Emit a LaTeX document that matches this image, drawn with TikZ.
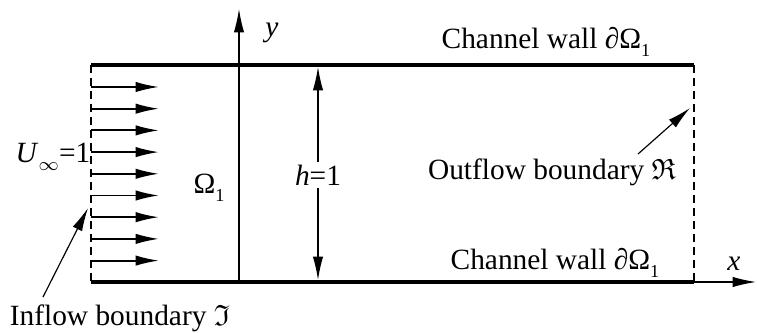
\documentclass[tikz,border=0pt]{standalone}
\usepackage{fontspec}
\usepackage{amssymb}
\setmainfont{Liberation Serif}
\usetikzlibrary{arrows.meta}
\newcommand{\lowidx}[1]{\raisebox{-.6ex}{\scriptsize #1}}
\tikzset{
  wall/.style={line width=1.9pt},
  bnd/.style={line width=0.8pt,dash pattern=on 3pt off 2pt},
  axis/.style={line width=0.45pt,-{Latex[length=9pt,width=4pt]}},
  flow/.style={line width=0.7pt,-{Latex[length=9pt,width=4pt]}},
  lbl/.style={inner sep=1pt,font=\fontsize{11.3}{13}\selectfont}
}
\begin{document}
\begin{tikzpicture}[x=0.3846pt,y=-0.3846pt]
\useasboundingbox (0,0) rectangle (757,333);
% corners of the channel
\coordinate (inTop) at (91,65);
\coordinate (inBot) at (91,282);
\coordinate (outTop) at (694,65);
\coordinate (outBot) at (694,282);
\coordinate (org) at (239,282);
\coordinate (xEnd) at (756,282);
\coordinate (yEnd) at (239,9);

\draw[bnd] (inTop) -- (inBot);
\draw[bnd] (outTop) -- (outBot);
\draw[axis] (org) -- (yEnd);
\draw[axis] (org) -- (xEnd);
\draw[wall] (inTop) -- (outTop);
\draw[wall] (inBot) -- (outBot);

\node[lbl] (ylab) at (272,33) {\textit{y}};
\node[lbl] (xlab) at (734,264) {\textit{x}};
\node[lbl] (wallTop) at (546,42) {Channel wall ∂Ω\lowidx{1}};
\node[lbl] (wallBot) at (555,263) {Channel wall ∂Ω\lowidx{1}};

% inflow profile
\foreach \y in {87,108.7,130.4,152.1,173.8,195.5,217.2,238.9,260.6}
  \draw[flow] (91,\y) -- (159,\y);
\node[lbl] (uinf) at (53,157) {\textit{U}\lowidx{$\infty$}=1};
\node[lbl] (dom) at (209,188) {Ω\lowidx{1}};

% height
\node[lbl] (hlab) at (318,175) {\textit{h}=1};
\coordinate (hTop) at (318,67);
\coordinate (hBot) at (318,280);
\draw[axis] (hlab.north) -- (hTop);
\draw[axis] (hlab.south) -- (hBot);

% boundary labels
\node[lbl] (inlab) at (120,318) {Inflow boundary $\mathfrak{I}$};
\node[lbl] (outlab) at (552,172) {Outflow boundary $\mathfrak{R}$};
\coordinate (inPt) at (88,208);
\coordinate (outPt) at (690,108);
\draw[axis] (43,297) -- (inPt);
\draw[axis] (638,154) -- (outPt);
\end{tikzpicture}
\end{document}
